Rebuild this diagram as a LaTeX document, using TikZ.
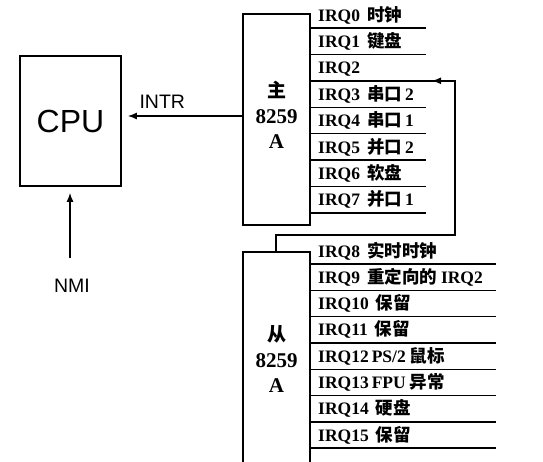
\documentclass[tikz,border=0pt]{standalone}
\usepackage{fontspec}
\setmainfont{Liberation Serif}
\setsansfont{Liberation Sans}
\newfontfamily\cjkf{Noto Sans CJK SC}
\usetikzlibrary{arrows.meta}
\newcommand\zh[1]{{\cjkf\bfseries\fontsize{17.5}{20}\selectfont #1}}
\begin{document}
\begin{tikzpicture}[x=1pt,y=-1pt,
  box/.style={draw,line width=1.6pt,inner sep=0pt},
  boxtext/.style={align=center,inner sep=0pt,font=\bfseries\fontsize{21}{25.5}\selectfont},
  irq/.style={anchor=base west,inner sep=0pt,font=\bfseries\fontsize{17.5}{20}\selectfont},
  wire/.style={line width=1.4pt},
  arr/.style={line width=1.4pt,-{Latex[length=9pt,width=7pt]}},
  sans/.style={font=\sffamily\fontsize{19.5}{22}\selectfont}]
\useasboundingbox (0,0) rectangle (543,461);
% CPU
\node[box,minimum width=101pt,minimum height=130pt,font=\sffamily\fontsize{32}{34}\selectfont] (cpu) at (70.5,121) {CPU};
% master
\node[box,minimum width=67pt,minimum height=211pt] (m) at (276.5,119.5) {};
\node[boxtext] (mt) at (276.5,115) {{\cjkf\bfseries\fontsize{19}{25.5}\selectfont 主}\\8259\\A};
% slave
\node[box,minimum width=67pt,minimum height=216pt] (s) at (276.5,360) {};
\node[boxtext] (st) at (276.5,359) {{\cjkf\bfseries\fontsize{19}{25.5}\selectfont 从}\\8259\\A};
% INTR and NMI
\draw[arr,shorten >=6pt] (m.west |- 0,116) -- (cpu.east |- 0,116);
\node[sans,anchor=base west] (intr) at (136,108) {INTR};
\coordinate (nmi0) at (70,258);
\draw[arr,shorten >=6pt] (nmi0) -- (cpu.south -| nmi0);
\node[sans,anchor=base] (nmi) at (72,292) {NMI};
% master IRQ lines
\foreach \i/\y in {0/28,1/54.4,3/107.2,4/133.6,5/160,6/186.4,7/212.8}{
  \coordinate (mr\i) at (426,\y);
  \draw[wire] (m.east |- mr\i) -- (mr\i);
}
\node[irq] (q0) at (318,21) {IRQ0\hspace{7pt}\zh{时钟}};
\node[irq] (q1) at (318,47.4) {IRQ1\hspace{7pt}\zh{键盘}};
\node[irq] (q2) at (318,73.8) {IRQ2};
\node[irq] (q3) at (318,100.2) {IRQ3\hspace{7pt}\zh{串口}\hspace{3pt}2};
\node[irq] (q4) at (318,126.6) {IRQ4\hspace{7pt}\zh{串口}\hspace{3pt}1};
\node[irq] (q5) at (318,153) {IRQ5\hspace{7pt}\zh{并口}\hspace{3pt}2};
\node[irq] (q6) at (318,179.4) {IRQ6\hspace{7pt}\zh{软盘}};
\node[irq] (q7) at (318,205.8) {IRQ7\hspace{7pt}\zh{并口}\hspace{3pt}1};
% cascade
\coordinate (c1) at (455,80.8);
\coordinate (c2) at (455,235);
\coordinate (c3) at (276,235);
\coordinate (ca) at (432,80.8);
\draw[wire] (s.north -| c3) -- (c3) -- (c2) -- (c1) -- (ca) -- (m.east |- ca);
\draw[arr] (c1) -- (ca);
% slave IRQ lines
\foreach \i/\y in {8/264,9/290.3,10/316.6,11/342.9,12/369.2,13/395.5,14/421.8,15/448.1}{
  \coordinate (sr\i) at (496,\y);
  \draw[wire] (s.east |- sr\i) -- (sr\i);
}
\node[irq] (q8) at (318,257) {IRQ8\hspace{7pt}\zh{实时时钟}};
\node[irq] (q9) at (318,283.3) {IRQ9\hspace{7pt}\zh{重定向的}\hspace{4pt}IRQ2};
\node[irq] (q10) at (318,309.6) {IRQ10\hspace{7pt}\zh{保留}};
\node[irq] (q11) at (318,335.9) {IRQ11\hspace{7pt}\zh{保留}};
\node[irq] (q12) at (318,362.2) {IRQ12\hspace{3pt}PS/2\hspace{4pt}\zh{鼠标}};
\node[irq] (q13) at (318,388.5) {IRQ13\hspace{3pt}FPU\hspace{4pt}\zh{异常}};
\node[irq] (q14) at (318,414.8) {IRQ14\hspace{7pt}\zh{硬盘}};
\node[irq] (q15) at (318,441.1) {IRQ15\hspace{7pt}\zh{保留}};
\end{tikzpicture}
\end{document}
